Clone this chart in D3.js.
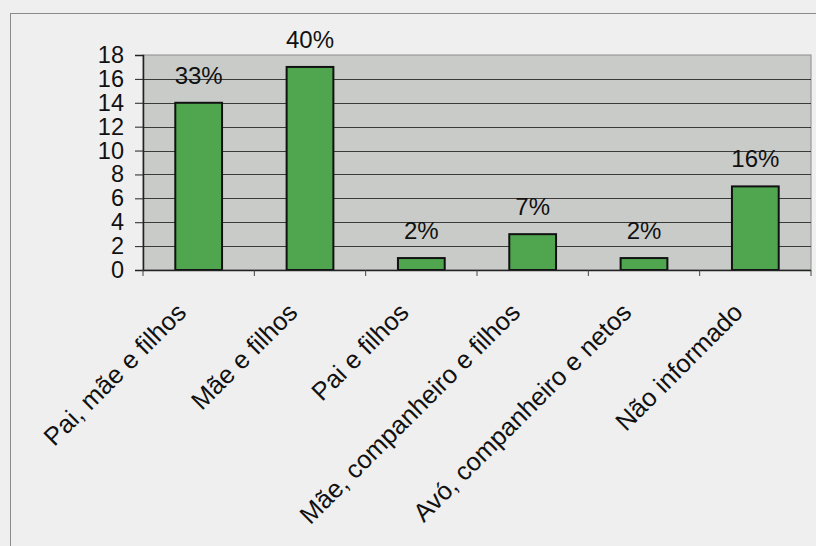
<!DOCTYPE html>
<html><head><meta charset="utf-8">
<script src="https://cdn.jsdelivr.net/npm/d3@7"></script>
<style>
html,body{margin:0;padding:0;background:#efefef;}
svg{display:block;font-family:Arial,"Liberation Sans",sans-serif;}
</style></head>
<body>
<svg id="chart" width="816" height="546"></svg>
<script>
const categories = ["Pai, mãe e filhos","Mãe e filhos","Pai e filhos","Mãe, companheiro e filhos","Avó, companheiro e netos","Não informado"];
const values = [14, 17, 1, 3, 1, 7];
const percentLabels = ["33%","40%","2%","7%","2%","16%"];
const yTicks = [0,2,4,6,8,10,12,14,16,18];

const svg = d3.select("#chart");
const pLeft = 143, pRight = 811, pTop = 55, pBottom = 270;

// outer chart border
svg.append("rect").attr("x",10.5).attr("y",13.5).attr("width",830).attr("height",560)
  .attr("fill","#efefef").attr("stroke","#8a8a8a").attr("stroke-width",1);

const x = d3.scaleBand().domain(categories).range([pLeft, pRight]).paddingInner(0.58).paddingOuter(0.29);
const xb = d3.scaleBand().domain(categories).range([pLeft, pRight]);
const y = d3.scaleLinear().domain([0,18]).range([pBottom, pTop]);

// plot area
svg.append("rect").attr("x",pLeft).attr("y",pTop).attr("width",pRight-pLeft).attr("height",pBottom-pTop)
  .attr("fill","#c9cbc9").attr("stroke","#8c8c8c").attr("stroke-width",1);

// gridlines
svg.append("g").selectAll("line").data(yTicks.filter(d=>d>0 && d<18)).join("line")
  .attr("x1",pLeft).attr("x2",pRight).attr("y1",d=>Math.round(y(d))+0.5).attr("y2",d=>Math.round(y(d))+0.5)
  .attr("stroke","#3a3a3a").attr("stroke-width",1);

// bars
svg.append("g").selectAll("rect").data(values).join("rect")
  .attr("x",(d,i)=>x(categories[i])).attr("width",x.bandwidth())
  .attr("y",d=>y(d)).attr("height",d=>pBottom-y(d))
  .attr("fill","#4fa64f").attr("stroke","#111").attr("stroke-width",2);

// y axis
const yAxis = d3.axisLeft(y).tickValues(yTicks).tickSize(8).tickPadding(11);
const gy = svg.append("g").attr("transform",`translate(${pLeft},0)`).call(yAxis);
gy.select(".domain").attr("stroke","#222").attr("stroke-width",1.5);
gy.selectAll(".tick line").attr("stroke","#222");
gy.selectAll(".tick text").attr("font-size",23.5).attr("fill","#111").attr("font-family","Arial,'Liberation Sans',sans-serif");

// x axis
const gx = svg.append("g").attr("transform",`translate(0,${pBottom})`);
gx.append("line").attr("x1",pLeft).attr("x2",pRight).attr("y1",0.5).attr("y2",0.5).attr("stroke","#222").attr("stroke-width",1.5);
const bounds = categories.map(c=>xb(c)).concat([pRight]);
gx.selectAll("line.tk").data(bounds).join("line").attr("class","tk")
  .attr("x1",d=>d).attr("x2",d=>d).attr("y1",0).attr("y2",6).attr("stroke","#444");

// category labels rotated
svg.append("g").selectAll("text").data(categories).join("text")
  .attr("transform",d=>`translate(${xb(d)+xb.bandwidth()/2-11},${pBottom+44}) rotate(-45)`)
  .attr("text-anchor","end").attr("font-size",25.5).attr("fill","#111").text(d=>d);

// percent labels
svg.append("g").selectAll("text").data(values).join("text")
  .attr("x",(d,i)=>x(categories[i])+x.bandwidth()/2).attr("y",d=>y(d)-19)
  .attr("text-anchor","middle").attr("font-size",24).attr("fill","#111")
  .text((d,i)=>percentLabels[i]);
</script>
</body></html>
